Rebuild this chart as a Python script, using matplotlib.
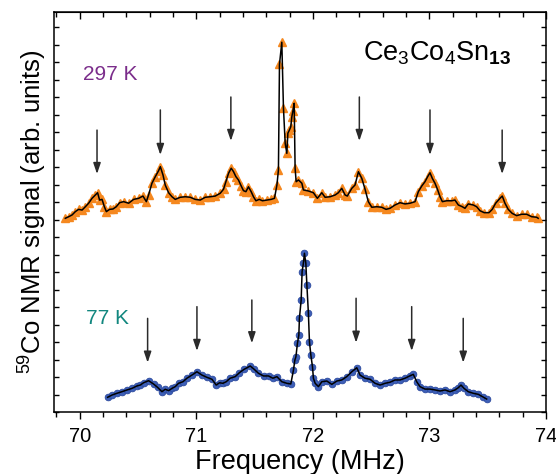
import numpy as np
import matplotlib.pyplot as plt
from matplotlib.ticker import MultipleLocator

plt.rcParams['font.family'] = ['Liberation Sans', 'DejaVu Sans']
plt.rcParams['mathtext.fontset'] = 'custom'
plt.rcParams['mathtext.rm'] = 'Liberation Sans'
plt.rcParams['mathtext.it'] = 'Liberation Sans:italic'
plt.rcParams['mathtext.bf'] = 'Liberation Sans:bold'

# 297 K spectrum (offset upward)
f_297 = [69.877, 69.906, 69.935, 69.963, 69.991, 70.021, 70.049, 70.077, 70.106, 70.135,
         70.154, 70.171, 70.192, 70.212, 70.229, 70.257, 70.286, 70.314, 70.343, 70.377,
         70.420, 70.463, 70.506, 70.543, 70.572, 70.591, 70.620, 70.649, 70.677, 70.692,
         70.715, 70.734, 70.763, 70.792, 70.820, 70.863, 70.906, 70.949, 70.991, 71.034,
         71.077, 71.120, 71.163, 71.206, 71.234, 71.254, 71.277, 71.300, 71.320, 71.340,
         71.362, 71.386, 71.405, 71.426, 71.448, 71.471, 71.491, 71.512, 71.540, 71.568,
         71.606, 71.643, 71.671, 71.692, 71.705, 71.714, 71.734, 71.748, 71.763, 71.777,
         71.786, 71.799, 71.811, 71.820, 71.829, 71.840, 71.848, 71.857, 71.877, 71.906,
         71.919, 71.962, 72.005, 72.039, 72.077, 72.105, 72.148, 72.191, 72.219, 72.248,
         72.277, 72.296, 72.334, 72.362, 72.391, 72.420, 72.448, 72.476, 72.506, 72.548,
         72.591, 72.628, 72.662, 72.705, 72.748, 72.791, 72.834, 72.877, 72.905, 72.934,
         72.962, 72.985, 73.005, 73.025, 73.048, 73.071, 73.091, 73.111, 73.148, 73.191,
         73.219, 73.248, 73.282, 73.305, 73.333, 73.376, 73.405, 73.434, 73.470, 73.511,
         73.539, 73.568, 73.605, 73.625, 73.648, 73.676, 73.710, 73.748, 73.791, 73.834,
         73.877, 73.919, 73.933]
s_297 = [11.07, 11.16, 11.26, 11.45, 11.58, 11.54, 11.73, 11.93, 12.21, 12.40,
         12.53, 12.11, 12.15, 11.73, 11.45, 11.58, 11.60, 11.73, 11.96, 12.02,
         11.93, 12.15, 12.21, 12.34, 12.02, 12.40, 13.07, 13.45, 13.79, 14.02,
         13.54, 12.97, 12.53, 12.30, 12.15, 12.27, 12.30, 12.27, 12.15, 12.11,
         12.27, 12.30, 12.34, 12.50, 12.73, 13.16, 13.64, 13.93, 13.73, 13.45,
         13.26, 12.91, 12.65, 12.59, 12.87, 12.59, 12.30, 12.07, 12.15, 12.07,
         12.11, 12.15, 12.21, 12.97, 13.83, 19.87, 21.13, 17.39, 15.35, 14.78,
         15.93, 16.11, 16.30, 16.87, 17.20, 17.64, 13.93, 13.16, 13.26, 13.07,
         12.69, 12.63, 12.53, 12.21, 12.53, 12.27, 12.30, 12.40, 12.53, 12.78,
         12.40, 12.34, 12.78, 12.97, 13.73, 13.35, 12.73, 12.02, 11.70, 11.73,
         11.70, 11.58, 11.64, 11.83, 11.96, 11.89, 11.93, 12.02, 12.59, 12.91,
         13.16, 13.45, 13.67, 13.35, 13.07, 12.69, 12.30, 12.02, 12.07, 12.07,
         12.11, 11.83, 11.73, 11.64, 11.89, 11.83, 11.73, 11.50, 11.39, 11.39,
         11.58, 11.93, 12.21, 12.34, 11.93, 11.58, 11.35, 11.22, 11.30, 11.30,
         11.16, 11.13, 11.07]

# 77 K spectrum
f_77 = [70.240, 70.278, 70.320, 70.363, 70.406, 70.449, 70.492, 70.520, 70.548, 70.591,
        70.634, 70.668, 70.706, 70.734, 70.763, 70.792, 70.820, 70.848, 70.886, 70.920,
        70.963, 71.006, 71.049, 71.092, 71.135, 71.171, 71.200, 71.229, 71.257, 71.291,
        71.334, 71.371, 71.411, 71.463, 71.497, 71.534, 71.577, 71.620, 71.657, 71.692,
        71.734, 71.777, 71.811, 71.834, 71.846, 71.855, 71.868, 71.880, 71.885, 71.900,
        71.908, 71.919, 71.928, 71.940, 71.949, 71.962, 71.971, 71.983, 71.997, 72.005,
        72.020, 72.048, 72.077, 72.120, 72.163, 72.206, 72.248, 72.291, 72.334, 72.377,
        72.405, 72.448, 72.491, 72.534, 72.577, 72.620, 72.662, 72.705, 72.748, 72.791,
        72.834, 72.862, 72.891, 72.919, 72.962, 73.005, 73.048, 73.091, 73.134, 73.177,
        73.219, 73.248, 73.271, 73.297, 73.333, 73.376, 73.419, 73.457, 73.491]
s_77 = [0.84, 0.97, 1.07, 1.16, 1.26, 1.35, 1.49, 1.54, 1.67, 1.79,
        1.60, 1.41, 1.16, 1.30, 1.22, 1.35, 1.45, 1.64, 1.73, 1.93,
        2.11, 2.30, 2.11, 1.98, 1.87, 1.54, 1.67, 1.64, 1.73, 1.93,
        2.02, 2.25, 2.44, 2.63, 2.44, 2.21, 2.06, 2.06, 1.93, 2.02,
        1.73, 1.64, 1.60, 2.40, 2.97, 3.16, 3.93, 4.40, 5.35, 6.40,
        8.02, 8.50, 9.07, 8.50, 7.26, 5.64, 4.02, 3.26, 2.59, 1.93,
        1.64, 1.45, 1.73, 1.77, 1.58, 1.77, 1.83, 2.02, 2.30, 2.53,
        2.11, 1.93, 1.87, 1.64, 1.54, 1.64, 1.70, 1.83, 1.83, 1.93,
        2.07, 2.15, 1.73, 1.45, 1.31, 1.31, 1.26, 1.20, 1.26, 1.16,
        1.26, 1.39, 1.54, 1.35, 1.16, 1.07, 1.01, 0.87, 0.74]

# satellite positions: frequency, arrow tail, arrow tip
arr_f_297 = [70.149, 70.692, 71.297, 72.399, 73.005, 73.624]
arr_top_297 = [16.11, 17.26, 18.00, 18.00, 17.26, 16.11]
arr_tip_297 = [13.60, 14.69, 15.49, 15.49, 14.69, 13.60]
arr_f_77 = [70.583, 71.006, 71.477, 72.371, 72.848, 73.290]
arr_top_77 = [5.35, 6.02, 6.40, 6.50, 6.02, 5.35]
arr_tip_77 = [2.82, 3.49, 3.93, 3.96, 3.49, 2.82]

fig = plt.figure(figsize=(5.56, 4.74), dpi=100)
ax = fig.add_axes([54 / 556, 62 / 474, 492 / 556, 400 / 474])

ax.plot(f_297, s_297, '^', color='#f5881f', ms=5.8, mec='#f5881f', zorder=2)
ax.plot(f_297, s_297, '-', color='black', lw=1.1, zorder=3)
ax.plot(f_77, s_77, 'o', color='#3d5fb8', ms=4.8, mec='#2c4a9e', mew=0.6, zorder=2)
ax.plot(f_77, s_77, '-', color='black', lw=1.1, zorder=3)

for f, y0, y1 in zip(arr_f_297 + arr_f_77, arr_top_297 + arr_top_77, arr_tip_297 + arr_tip_77):
    ax.annotate('', xy=(f, y1), xytext=(f, y0),
                arrowprops=dict(arrowstyle='-|>,head_length=0.65,head_width=0.22',
                                color='#2a2a2a', lw=1.1, shrinkA=0, shrinkB=0,
                                mutation_scale=10))

ax.text(70.029, 18.97, '297 K', color='#7b2d8b', fontsize=15, va='baseline')
ax.text(70.057, 5.01, '77 K', color='#12877f', fontsize=15, va='baseline')
ax.text(72.431, 20.1, r'Ce$_3$Co$_4$Sn$_{\mathbf{13}}$', fontsize=19.5, va='baseline')

ax.set_xlim(69.78, 74.0)
ax.set_ylim(0, 400 / 17.5)
ax.xaxis.set_major_locator(MultipleLocator(1))
ax.xaxis.set_minor_locator(MultipleLocator(0.2))
ax.yaxis.set_major_locator(MultipleLocator(1))
ax.set_yticklabels([])
ax.tick_params(axis='x', which='both', direction='out', labelsize=14.5, top=False)
ax.tick_params(axis='x', which='major', length=5, width=1)
ax.tick_params(axis='x', which='minor', length=3.5, width=1)
ax.tick_params(axis='y', which='both', direction='in', length=3.5, width=1,
               left=True, right=True)
ax.tick_params(axis='x', pad=6)

# inward ticks along the top edge
top = ax.secondary_xaxis('top')
top.xaxis.set_major_locator(MultipleLocator(1))
top.xaxis.set_minor_locator(MultipleLocator(0.2))
top.tick_params(which='both', direction='in', length=3.5, width=1, labeltop=False)
top.tick_params(which='major', length=5)

for sp in ax.spines.values():
    sp.set_linewidth(1.1)

ax.set_xlabel('Frequency (MHz)', fontsize=19.5, labelpad=2)
ax.set_ylabel(r'$^{59}$Co NMR signal (arb. units)', fontsize=18.5, labelpad=0)

fig.savefig('out.png', dpi=100)
